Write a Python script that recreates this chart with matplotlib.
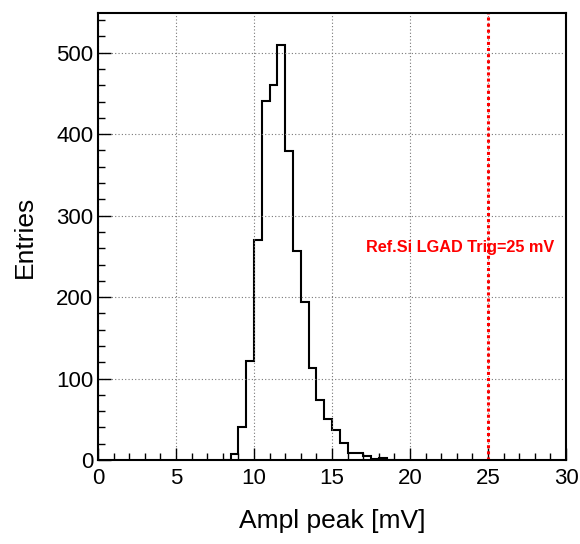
import numpy as np
import matplotlib.pyplot as plt
from matplotlib.ticker import MultipleLocator

# bin edges every 0.5 mV, counts
bin_lo = 8.0
bin_w = 0.5
counts = [0, 7, 41, 121, 270, 441, 461, 509, 379, 257, 194, 113, 74, 50, 37, 21,
          8, 8, 5, 1, 3, 0]
edges = bin_lo + bin_w * np.arange(len(counts) + 1)

trig = 25
trig_label = 'Ref.Si LGAD Trig=25 mV'

plt.rcParams['font.family'] = ['Liberation Sans', 'DejaVu Sans']

fig = plt.figure(figsize=(5.8, 5.44), dpi=100)
ax = fig.add_axes([0.169, 0.1544, 0.807, 0.822])

ax.stairs(counts, edges, color='black', linewidth=1.5)
ax.axvline(trig, color='red', linestyle=(0, (1, 1)), linewidth=2.2)
ax.text(17.2, 261, trig_label, color='red', fontsize=11.7, fontweight='bold',
        va='center', ha='left')

ax.set_xlim(0, 30)
ax.set_ylim(0, 549)
ax.xaxis.set_major_locator(MultipleLocator(5))
ax.xaxis.set_minor_locator(MultipleLocator(1))
ax.yaxis.set_major_locator(MultipleLocator(100))
ax.yaxis.set_minor_locator(MultipleLocator(20))
ax.tick_params(which='both', direction='in', labelsize=16, top=False, right=False)
ax.tick_params(which='major', length=9, width=1)
ax.tick_params(which='minor', length=5, width=1)
ax.tick_params(axis='x', pad=6)
ax.grid(True, which='major', linestyle=(0, (1, 2)), color='#777777', linewidth=0.8)

for s in ax.spines.values():
    s.set_linewidth(1.5)

ax.set_xlabel('Ampl peak [mV]', fontsize=19, labelpad=14)
ax.set_ylabel('Entries', fontsize=19, labelpad=14)

fig.savefig('out.png', dpi=100)
